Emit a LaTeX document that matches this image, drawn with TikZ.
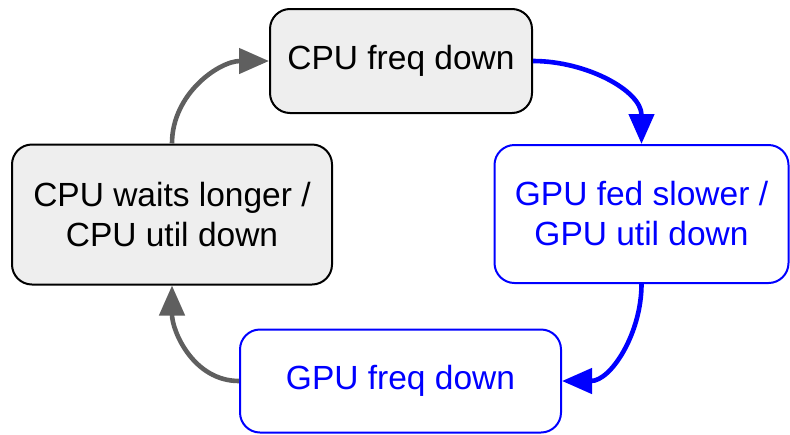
\documentclass[tikz,border=0pt]{standalone}
\usepackage{fontspec}
\setmainfont{Liberation Sans}
\usetikzlibrary{arrows.meta}
\definecolor{boxgray}{HTML}{EEEEEE}
\definecolor{arrgray}{HTML}{5F5F5F}
\definecolor{pureblue}{HTML}{0000FF}
\tikzset{
  box/.style={draw, rounded corners=10pt, line width=1pt, align=center, inner sep=0pt,
    font=\fontsize{16.75pt}{20pt}\selectfont},
  cpubox/.style={box, draw=black, fill=boxgray, text=black},
  gpubox/.style={box, draw=pureblue, fill=white, text=pureblue},
  grayarrow/.style={draw=arrgray, line width=2.3pt, -{Triangle[length=15pt,width=12.5pt]}},
  bluearrow/.style={draw=pureblue, line width=2.3pt, -{Triangle[length=15pt,width=12.5pt]}}
}
\begin{document}
\begin{tikzpicture}
\useasboundingbox (0pt,0pt) rectangle (395pt,-217pt);
\node[cpubox, minimum width=131pt, minimum height=52pt] (top) at (200.5pt,-30.5pt) {\raisebox{-1.5pt}{CPU freq down}};
\node[gpubox, minimum width=147pt, minimum height=69pt] (right) at (320.75pt,-107pt) {GPU fed slower /\\GPU util down};
\node[cpubox, minimum width=160pt, minimum height=70pt] (left) at (86pt,-107.25pt) {CPU waits longer /\\CPU util down};
\node[gpubox, minimum width=160.5pt, minimum height=51.5pt] (bottom) at (200.25pt,-190.5pt) {\raisebox{-1.5pt}{GPU freq down}};
\draw[grayarrow] (left.north) to[out=90,in=180] (top.west);
\draw[bluearrow] (top.east) to[out=0,in=90] (right.north);
\draw[bluearrow] (right.south) to[out=270,in=0] (bottom.east);
\draw[grayarrow] (bottom.west) to[out=180,in=270] (left.south);
\end{tikzpicture}
\end{document}
